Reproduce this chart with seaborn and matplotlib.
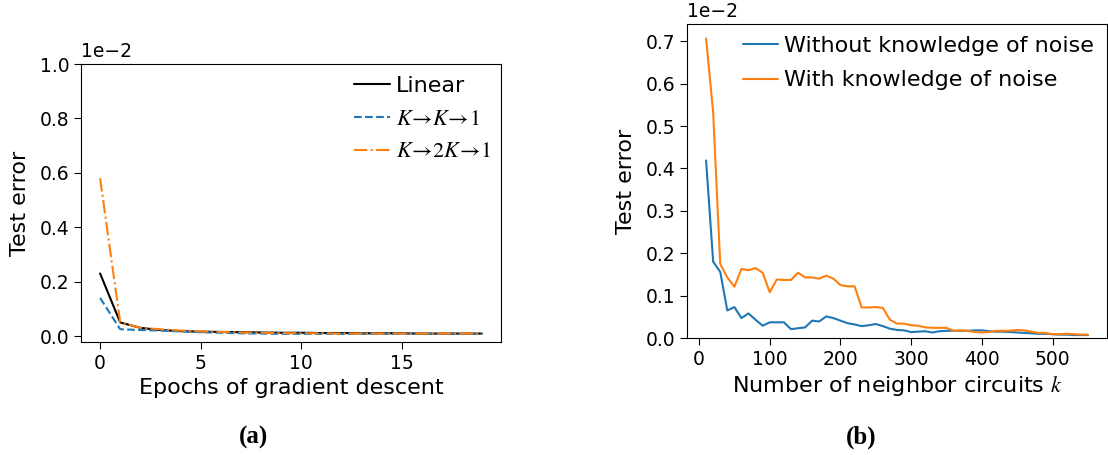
import numpy as np
import pandas as pd
import matplotlib
matplotlib.use("Agg")
import matplotlib.pyplot as plt
import seaborn as sns

# ---------------- data (values in units of 1e-2) ----------------
epochs = list(range(20))
linear = [0.23, 0.05, 0.030, 0.022, 0.018, 0.016, 0.015, 0.014, 0.013, 0.012,
          0.012, 0.011, 0.011, 0.010, 0.010, 0.010, 0.009, 0.009, 0.009, 0.009]
kk1 = [0.14, 0.025, 0.022, 0.020, 0.017, 0.014, 0.012, 0.010, 0.009, 0.008,
       0.008, 0.008, 0.008, 0.008, 0.008, 0.008, 0.008, 0.008, 0.008, 0.008]
k2k1 = [0.58, 0.05, 0.030, 0.025, 0.020, 0.017, 0.015, 0.013, 0.012, 0.011,
        0.010, 0.010, 0.009, 0.009, 0.009, 0.009, 0.009, 0.009, 0.009, 0.009]

k_vals = list(range(10, 551, 10))
without_noise = [0.419, 0.180, 0.156, 0.065, 0.073, 0.047, 0.058, 0.043, 0.029, 0.037,
                 0.037, 0.037, 0.021, 0.023, 0.025, 0.041, 0.039, 0.051, 0.047, 0.041,
                 0.035, 0.032, 0.028, 0.030, 0.033, 0.028, 0.022, 0.019, 0.018, 0.014,
                 0.015, 0.016, 0.013, 0.016, 0.017, 0.017, 0.017, 0.017, 0.018, 0.018,
                 0.016, 0.015, 0.015, 0.014, 0.013, 0.012, 0.011, 0.010, 0.010, 0.009,
                 0.008, 0.008, 0.007, 0.007, 0.007]
with_noise = [0.707, 0.532, 0.175, 0.143, 0.121, 0.163, 0.160, 0.165, 0.154, 0.108,
              0.138, 0.137, 0.137, 0.154, 0.143, 0.143, 0.140, 0.147, 0.140, 0.125,
              0.122, 0.122, 0.072, 0.072, 0.073, 0.071, 0.043, 0.034, 0.034, 0.030,
              0.029, 0.025, 0.024, 0.024, 0.024, 0.017, 0.018, 0.017, 0.014, 0.013,
              0.014, 0.017, 0.017, 0.017, 0.019, 0.018, 0.015, 0.012, 0.012, 0.009,
              0.009, 0.010, 0.009, 0.008, 0.008]

left_yticks = [0.0, 0.2, 0.4, 0.6, 0.8, 1.0]
right_yticks = [0.0, 0.1, 0.2, 0.3, 0.4, 0.5, 0.6, 0.7]

# ---------------- style ----------------
sns.set_style("ticks")
plt.rcParams["font.family"] = ["DejaVu Sans"]
plt.rcParams["mathtext.fontset"] = "stix"
plt.rcParams["xtick.direction"] = "out"
plt.rcParams["ytick.direction"] = "out"
plt.rcParams["xtick.major.size"] = 4.8
plt.rcParams["ytick.major.size"] = 4.8
plt.rcParams["axes.edgecolor"] = "black"
plt.rcParams["xtick.color"] = "black"
plt.rcParams["ytick.color"] = "black"
plt.rcParams["text.color"] = "black"
plt.rcParams["axes.labelcolor"] = "black"

TICK = 13.5
LABEL = 16
LEG = 16

fig = plt.figure(figsize=(11.08, 4.55), dpi=100)
W, H = 1108.0, 455.0
ax1 = fig.add_axes([81 / W, 1 - 342 / H, 420 / W, 278 / H])
ax2 = fig.add_axes([687 / W, 1 - 338 / H, 420 / W, 314 / H])

# ---------------- panel (a) ----------------
n_lin = r"Linear"
n_kk1 = r"$K\!\rightarrow\! K\!\rightarrow\! 1$"
n_k2k1 = r"$K\!\rightarrow\! 2K\!\rightarrow\! 1$"
df_a = pd.DataFrame({"epoch": epochs * 3,
                     "err": linear + kk1 + k2k1,
                     "model": [n_lin] * 20 + [n_kk1] * 20 + [n_k2k1] * 20})
styles = [(n_lin, "black", "-"), (n_kk1, "#1f77b4", "--"), (n_k2k1, "#ff7f0e", "-.")]
for name, col, ls in styles:
    sub = df_a[df_a["model"] == name]
    sns.lineplot(data=sub, x="epoch", y="err", ax=ax1, color=col, linestyle=ls,
                 linewidth=1.5, label=name)
ax1.set_ylim(-0.022, 1.0)
ax1.set_yticks(left_yticks)
ax1.set_yticklabels([f"{v:.1f}" for v in left_yticks])
ax1.set_xticks([0, 5, 10, 15])
ax1.set_xlabel("Epochs of gradient descent", fontsize=LABEL)
ax1.set_ylabel("Test error", fontsize=LABEL, labelpad=7)
ax1.tick_params(labelsize=TICK)
ax1.text(0, 1.01, "1e\u22122", transform=ax1.transAxes, ha="left", va="bottom", fontsize=TICK)
ax1.legend(loc="upper left", bbox_to_anchor=(0.63, 0.99), borderaxespad=0, frameon=False,
           fontsize=LEG, handlelength=1.6, handletextpad=0.25, labelspacing=0.58)

# ---------------- panel (b) ----------------
df_b = pd.DataFrame({"k": k_vals * 2,
                     "err": without_noise + with_noise,
                     "kind": ["Without knowledge of noise"] * len(k_vals)
                     + ["With knowledge of noise"] * len(k_vals)})
sns.lineplot(data=df_b, x="k", y="err", hue="kind", ax=ax2,
             palette=["#1f77b4", "#ff7f0e"], linewidth=1.5)
ax2.set_yticks(right_yticks)
ax2.set_yticklabels([f"{v:.1f}" for v in right_yticks])
ax2.set_ylim(0, 0.741)
ax2.set_xticks([0, 100, 200, 300, 400, 500])
ax2.set_xlabel(r"Number of neighbor circuits $k$", fontsize=LABEL)
ax2.set_ylabel("Test error", fontsize=LABEL, labelpad=7)
ax2.tick_params(labelsize=TICK)
ax2.text(0, 1.01, "1e\u22122", transform=ax2.transAxes, ha="left", va="bottom", fontsize=TICK)
ax2.legend(loc="upper left", bbox_to_anchor=(0.112, 0.99), borderaxespad=0, frameon=False,
           fontsize=LEG, handlelength=1.6, handletextpad=0.25, labelspacing=0.65, title=None)

# ---------------- captions ----------------
fig.text(254 / W, 1 - 437 / H, "(a)", ha="center", va="center", fontsize=18,
         fontweight="bold", family=["Liberation Serif", "DejaVu Serif"])
fig.text(861 / W, 1 - 437 / H, "(b)", ha="center", va="center", fontsize=18,
         fontweight="bold", family=["Liberation Serif", "DejaVu Serif"])

fig.savefig("out.png", dpi=100)
